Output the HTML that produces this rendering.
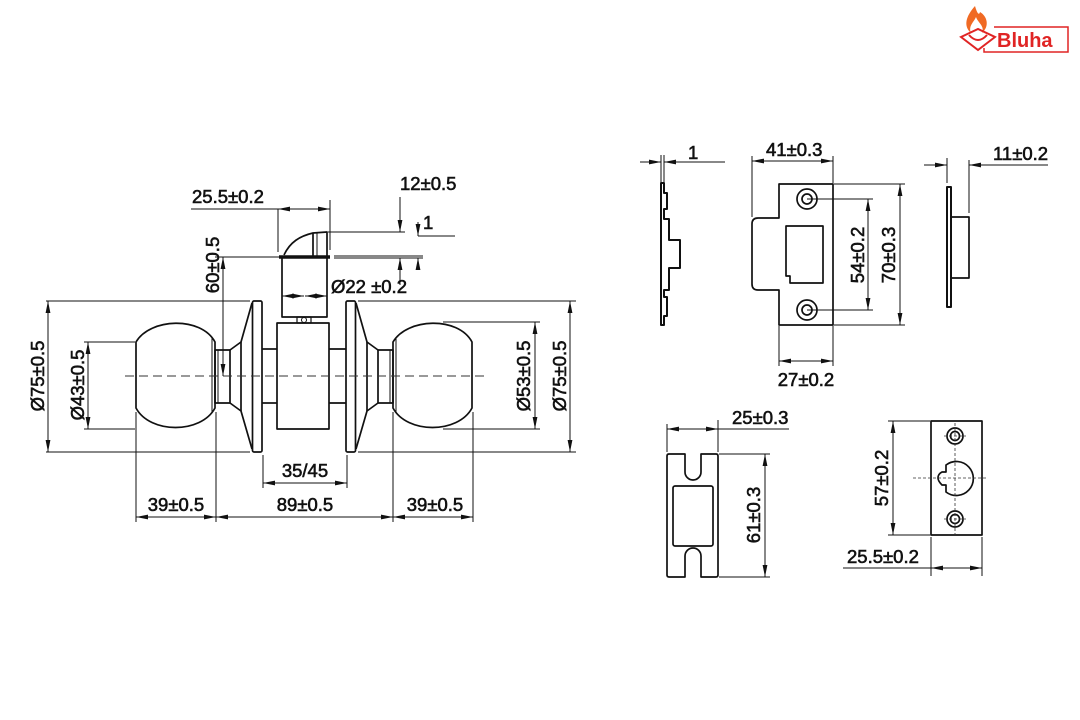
<!DOCTYPE html>
<html><head><meta charset="utf-8"><style>
html,body{margin:0;padding:0;background:#fff;}
svg{display:block;}
text{font-family:"Liberation Sans",Arial,sans-serif;font-size:18.5px;fill:#111;stroke:#111;stroke-width:0.6;}
</style></head><body>
<svg width="1080" height="720" viewBox="0 0 1080 720" xmlns="http://www.w3.org/2000/svg">
<defs>
<marker id="a" markerWidth="12" markerHeight="6" refX="12" refY="3" orient="auto-start-reverse" markerUnits="userSpaceOnUse">
<path d="M0,0.6 L12,3 L0,5.4 Z" fill="#111"/>
</marker>
</defs>
<g fill="none" stroke="#111" stroke-width="1.7" stroke-linejoin="round">
<path d="M136,342 C150,318 201,316 215,342 L215,408 C201,434 150,434 136,408 Z"/>
<line x1="212" y1="338" x2="212" y2="412" stroke-width="1"/>
<rect x="215" y="350" width="15" height="53"/>
<line x1="218" y1="350" x2="218" y2="403" stroke-width="1"/>
<path d="M230,350 L241,342 L252,303 M230,403 L241,411 L252,449"/>
<line x1="241" y1="342" x2="241" y2="411"/>
<rect x="252.5" y="301" width="9.5" height="151" rx="1.5"/>
<line x1="262" y1="349" x2="277" y2="349"/><line x1="262" y1="403" x2="277" y2="403"/>
<rect x="277" y="323" width="52" height="106"/>
<line x1="329" y1="349" x2="346" y2="349"/><line x1="329" y1="403" x2="346" y2="403"/>
<rect x="346" y="301" width="9.5" height="151" rx="1.5"/>
<path d="M356,303 L367,342 L378,350 M356,449 L367,411 L378,403"/>
<line x1="367" y1="342" x2="367" y2="411"/>
<rect x="378" y="350" width="15" height="53"/>
<line x1="390" y1="350" x2="390" y2="403" stroke-width="1"/>
<path d="M393,342 C407,318 458,316 472,342 L472,408 C458,434 407,434 393,408 Z"/>
<line x1="396" y1="338" x2="396" y2="412" stroke-width="1"/>
<rect x="282" y="257" width="45" height="60"/>
<line x1="279" y1="257" x2="330" y2="257" stroke-width="3.5"/>
<path d="M284,255 C290,242 300,236 313,233 L327,232 L327,256"/>
<line x1="313" y1="233" x2="313" y2="256"/><line x1="317" y1="233" x2="317" y2="256" stroke-width="1"/>
<rect x="297" y="317" width="14" height="6" stroke-width="1.2"/>
<circle cx="304" cy="320" r="2.5" stroke-width="1"/>
</g>
<line x1="125" y1="376" x2="484" y2="376" stroke="#333" stroke-width="1" stroke-dasharray="9,5"/>
<g stroke="#111" stroke-width="1" fill="none">
<line x1="46" y1="301" x2="250" y2="301"/><line x1="46" y1="452" x2="250" y2="452"/>
<line x1="358" y1="301" x2="576" y2="301"/><line x1="358" y1="452" x2="576" y2="452"/>
<line x1="84" y1="342" x2="135" y2="342"/><line x1="84" y1="429" x2="135" y2="429"/>
<line x1="443" y1="322" x2="540" y2="322"/><line x1="443" y1="429" x2="540" y2="429"/>
<line x1="215" y1="257" x2="280" y2="257"/>
<line x1="191" y1="209" x2="330" y2="209"/>
<line x1="278" y1="209" x2="278" y2="252"/><line x1="330" y1="200" x2="330" y2="250"/>
<line x1="328" y1="232" x2="405" y2="232"/>
<line x1="334" y1="256" x2="423" y2="256"/><line x1="334" y1="258" x2="423" y2="258"/>
<line x1="418" y1="236" x2="455" y2="236"/>
<line x1="400" y1="197" x2="400" y2="232" marker-end="url(#a)"/>
<line x1="400" y1="285" x2="400" y2="258" marker-end="url(#a)"/>
<line x1="418" y1="222" x2="418" y2="236" marker-end="url(#a)"/>
<line x1="418" y1="270" x2="418" y2="258" marker-end="url(#a)"/>
<line x1="278" y1="209" x2="330" y2="209" marker-start="url(#a)" marker-end="url(#a)"/>
<line x1="282" y1="296" x2="304" y2="296" marker-start="url(#a)" marker-end="url(#a)"/>
<line x1="305" y1="296" x2="327" y2="296" marker-start="url(#a)" marker-end="url(#a)"/>
<line x1="48" y1="301" x2="48" y2="452" marker-start="url(#a)" marker-end="url(#a)"/>
<line x1="88" y1="342" x2="88" y2="429" marker-start="url(#a)" marker-end="url(#a)"/>
<line x1="223" y1="257" x2="223" y2="376" marker-start="url(#a)" marker-end="url(#a)"/>
<line x1="535" y1="322" x2="535" y2="429" marker-start="url(#a)" marker-end="url(#a)"/>
<line x1="570" y1="301" x2="570" y2="452" marker-start="url(#a)" marker-end="url(#a)"/>
<line x1="263" y1="455" x2="263" y2="488"/><line x1="347" y1="455" x2="347" y2="488"/>
<line x1="263" y1="483" x2="347" y2="483" marker-start="url(#a)" marker-end="url(#a)"/>
<line x1="136" y1="412" x2="136" y2="522"/><line x1="216" y1="412" x2="216" y2="522"/>
<line x1="393" y1="412" x2="393" y2="522"/><line x1="473" y1="412" x2="473" y2="522"/>
<line x1="136" y1="517" x2="216" y2="517" marker-start="url(#a)" marker-end="url(#a)"/>
<line x1="216" y1="517" x2="393" y2="517" marker-start="url(#a)" marker-end="url(#a)"/>
<line x1="393" y1="517" x2="473" y2="517" marker-start="url(#a)" marker-end="url(#a)"/>
</g>
<g>
<text x="192" y="203">25.5±0.2</text>
<text x="400" y="190">12±0.5</text>
<text x="423" y="229">1</text>
<text x="331" y="293">Ø22 ±0.2</text>
<text x="305" y="477" text-anchor="middle">35/45</text>
<text x="176" y="511" text-anchor="middle">39±0.5</text>
<text x="305" y="511" text-anchor="middle">89±0.5</text>
<text x="435" y="511" text-anchor="middle">39±0.5</text>
<text transform="translate(44,376) rotate(-90)" text-anchor="middle">Ø75±0.5</text>
<text transform="translate(84,385) rotate(-90)" text-anchor="middle">Ø43±0.5</text>
<text transform="translate(219,265) rotate(-90)" text-anchor="middle">60±0.5</text>
<text transform="translate(530,376) rotate(-90)" text-anchor="middle">Ø53±0.5</text>
<text transform="translate(566,376) rotate(-90)" text-anchor="middle">Ø75±0.5</text>
</g>

<g fill="none" stroke="#111" stroke-width="1.7" stroke-linejoin="round">
<path d="M661,183 L664,183 L664,193 L667,193 L667,209 L664,209 L664,219 L669,219 L669,240 L680,240 L680,268 L669,268 L669,290 L664,290 L664,297 L667,297 L667,316 L664,316 L664,325 L661,325 Z" stroke-width="2"/>
<path d="M779,184 L833,184 L833,325 L779,325 L779,290 L758,290 Q752,290 752,284 L752,224 Q752,218 758,218 L779,218 Z"/>
<circle cx="807" cy="199" r="10"/><circle cx="807" cy="199" r="5"/>
<circle cx="807" cy="310" r="10"/><circle cx="807" cy="310" r="5"/>
<path d="M786,226 L823,226 L823,283 L790,283 L790,276 L786,276 Z"/>
<rect x="947" y="187" width="4" height="120" stroke-width="2"/>
<rect x="951" y="217" width="18" height="61"/>
<path d="M669,454 L685,454 L685,472 A8,8 0 0 0 701,472 L701,454 L716,454 Q718,454 718,456 L718,575 Q718,577 716,577 L701,577 L701,556 A8,8 0 0 0 685,556 L685,577 L669,577 Q667,577 667,575 L667,456 Q667,454 669,454 Z"/>
<rect x="673" y="486" width="40" height="60" rx="2"/>
<rect x="931" y="421" width="51" height="114"/>
<circle cx="955" cy="436" r="8"/><circle cx="955" cy="436" r="4.5"/>
<circle cx="955" cy="519" r="8"/><circle cx="955" cy="519" r="4.5"/>
<path d="M946,465 A17,17 0 1 1 946,492 L946,485 L942,485 Q938,481 938,478 Q938,474 942,472 L946,472 Z"/>
</g>
<g stroke="#333" stroke-width="0.8" stroke-dasharray="3,2" fill="none">
<line x1="955" y1="423" x2="955" y2="536"/><line x1="913" y1="478" x2="988" y2="478"/>
<line x1="944" y1="436" x2="966" y2="436"/><line x1="944" y1="519" x2="966" y2="519"/>
</g>
<g stroke="#111" stroke-width="1" fill="none">
<line x1="661" y1="155" x2="661" y2="182"/><line x1="664" y1="155" x2="664" y2="182"/>
<line x1="640" y1="162" x2="661" y2="162" marker-end="url(#a)"/>
<line x1="725" y1="162" x2="664" y2="162" marker-end="url(#a)"/>
<line x1="752" y1="156" x2="752" y2="217"/><line x1="833" y1="156" x2="833" y2="183"/>
<line x1="752" y1="161" x2="833" y2="161" marker-start="url(#a)" marker-end="url(#a)"/>
<line x1="807" y1="199" x2="873" y2="199"/><line x1="807" y1="310" x2="873" y2="310"/>
<line x1="868" y1="199" x2="868" y2="310" marker-start="url(#a)" marker-end="url(#a)"/>
<line x1="834" y1="184" x2="905" y2="184"/><line x1="834" y1="325" x2="905" y2="325"/>
<line x1="900" y1="184" x2="900" y2="325" marker-start="url(#a)" marker-end="url(#a)"/>
<line x1="779" y1="326" x2="779" y2="366"/><line x1="833" y1="326" x2="833" y2="366"/>
<line x1="779" y1="361" x2="833" y2="361" marker-start="url(#a)" marker-end="url(#a)"/>
<line x1="947" y1="158" x2="947" y2="183"/><line x1="969" y1="160" x2="969" y2="213"/>
<line x1="924" y1="165" x2="947" y2="165" marker-end="url(#a)"/>
<line x1="1048" y1="165" x2="969" y2="165" marker-end="url(#a)"/>
<line x1="667" y1="424" x2="667" y2="452"/><line x1="718" y1="420" x2="718" y2="452"/>
<line x1="667" y1="429" x2="718" y2="429" marker-start="url(#a)" marker-end="url(#a)"/>
<line x1="718" y1="429" x2="789" y2="429"/>
<line x1="719" y1="454" x2="770" y2="454"/><line x1="719" y1="577" x2="770" y2="577"/>
<line x1="765" y1="454" x2="765" y2="577" marker-start="url(#a)" marker-end="url(#a)"/>
<line x1="888" y1="421" x2="930" y2="421"/><line x1="888" y1="535" x2="930" y2="535"/>
<line x1="893" y1="421" x2="893" y2="535" marker-start="url(#a)" marker-end="url(#a)"/>
<line x1="931" y1="537" x2="931" y2="576"/><line x1="982" y1="537" x2="982" y2="576"/>
<line x1="931" y1="568" x2="982" y2="568" marker-start="url(#a)" marker-end="url(#a)"/>
<line x1="843" y1="568" x2="931" y2="568"/>
</g>
<g>
<text x="688" y="159">1</text>
<text x="766" y="156">41±0.3</text>
<text x="993" y="160">11±0.2</text>
<text x="806" y="386" text-anchor="middle">27±0.2</text>
<text transform="translate(864,255) rotate(-90)" text-anchor="middle">54±0.2</text>
<text transform="translate(895,255) rotate(-90)" text-anchor="middle">70±0.3</text>
<text x="732" y="424">25±0.3</text>
<text transform="translate(760,515) rotate(-90)" text-anchor="middle">61±0.3</text>
<text transform="translate(888,478) rotate(-90)" text-anchor="middle">57±0.2</text>
<text x="847" y="563">25.5±0.2</text>
</g>
<g>
<rect x="984" y="27" width="84" height="25" fill="none" stroke="#e02424" stroke-width="1.5"/>
<rect x="980" y="22" width="14" height="26" fill="#fff"/>
<path d="M975,6 C966,16 963,26 971,33 C968,26 974,22 976,17 C978,23 985,26 982,33 C990,26 987,16 980,12 C979,16 977,13 975,6 Z" fill="#f06a24"/>
<path d="M961,37 L978,29 L995,37 L978,50 Z" fill="none" stroke="#e02424" stroke-width="2"/>
<path d="M969,35 Q978,45 987,35" fill="none" stroke="#e02424" stroke-width="2"/>
<text x="997" y="47" style="font-size:20px;font-weight:bold;fill:#e02424;stroke:none;">Bluha</text>
</g>
</svg>
</body></html>
